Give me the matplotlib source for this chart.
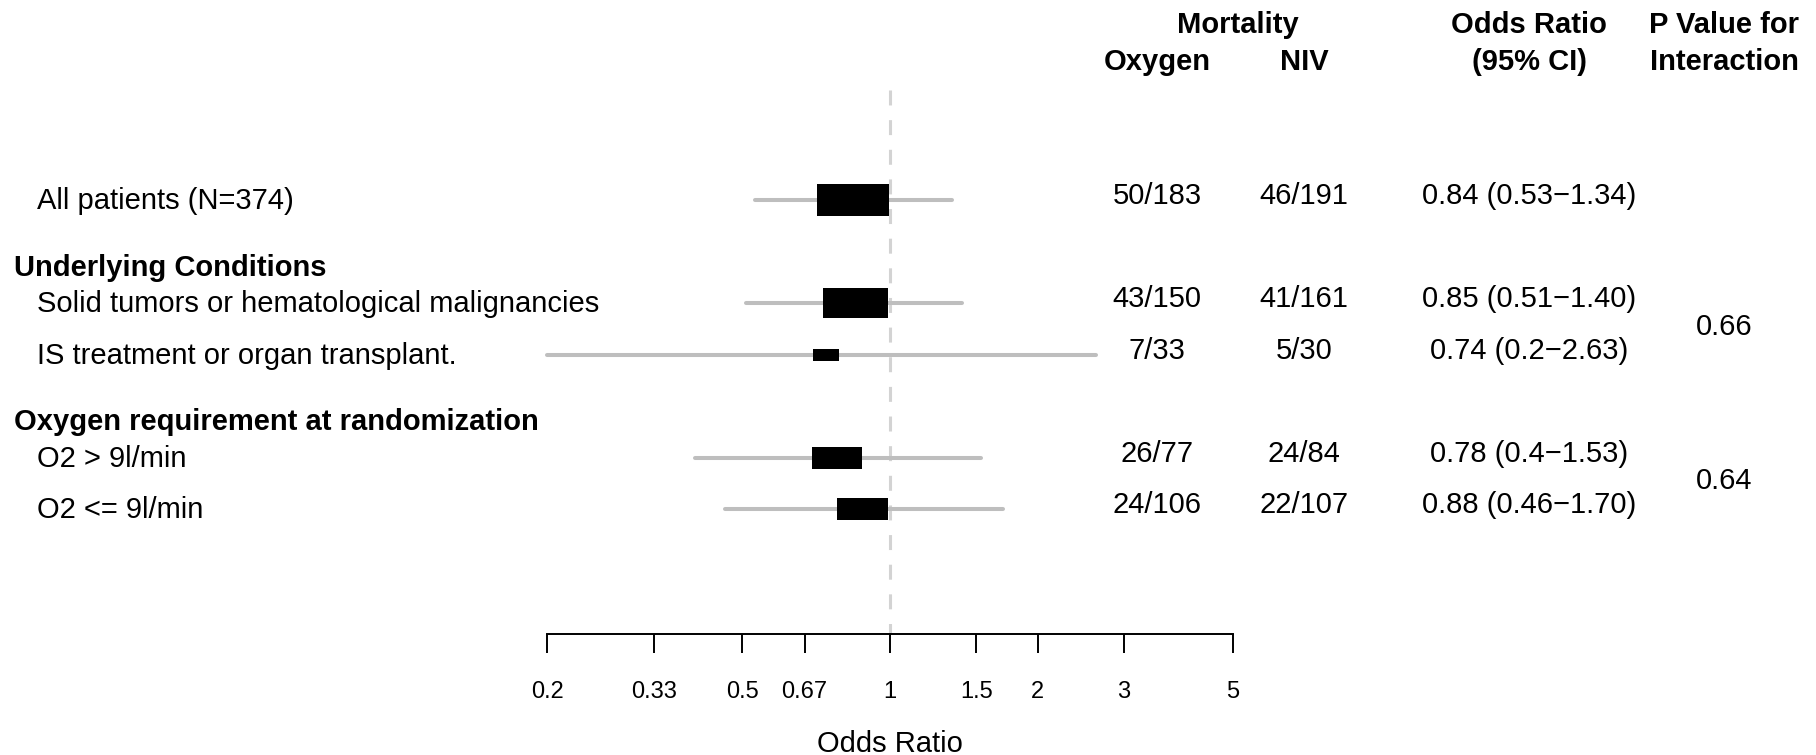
import numpy as np
import matplotlib
matplotlib.use("Agg")
import matplotlib.pyplot as plt
from matplotlib.patches import Rectangle
from matplotlib.ticker import NullLocator

plt.rcParams['font.family'] = ['Liberation Sans', 'DejaVu Sans']

# Subgroup results
subgroups = ["All patients (N=374)",
             "Solid tumors or hematological malignancies",
             "IS treatment or organ transplant.",
             "O2 > 9l/min",
             "O2 <= 9l/min"]
group_titles = ["Underlying Conditions", "Oxygen requirement at randomization"]
group_members = [[1, 2], [3, 4]]

oxygen_deaths = [50, 43, 7, 26, 24]
oxygen_total = [183, 150, 33, 77, 106]
niv_deaths = [46, 41, 5, 24, 22]
niv_total = [191, 161, 30, 84, 107]

odds_ratio = [0.84, 0.85, 0.74, 0.78, 0.88]
ci_low = [0.53, 0.51, 0.2, 0.4, 0.46]
ci_high = [1.34, 1.40, 2.63, 1.53, 1.70]
p_interaction = [0.66, 0.64]

tick_values = [0.2, 0.33, 0.5, 0.67, 1, 1.5, 2, 3, 5]
tick_labels = ["0.2", "0.33", "0.5", "0.67", "1", "1.5", "2", "3", "5"]

# Layout in pixels (from the top-left corner)
W, H = 1816, 755
X0, X1, AXIS_Y = 547, 1233, 634
ROW_Y = [200, 303, 355, 458, 509]
TITLE_Y = [266, 420]
LABEL_X, TITLE_X = 37, 14
OXY_X, NIV_X, OR_X, P_X, MORT_X = 1157, 1304, 1529, 1724, 1238
BOX_K = 66.2          # box width in px for a CI spanning one log unit
FS = 21

fig = plt.figure(figsize=(W / 100, H / 100), dpi=100)


def px_text(x, y, s, **kw):
    kw.setdefault('fontsize', FS)
    kw.setdefault('va', 'baseline')
    fig.text(x / W, 1 - y / H, s, **kw)


ax = fig.add_axes([X0 / W, 1 - AXIS_Y / H, (X1 - X0) / W, AXIS_Y / H])
ax.set_xscale('log')
ax.set_xlim(0.2, 5)
ax.set_ylim(AXIS_Y, 0)
ax.patch.set_alpha(0)
for side in ['top', 'left', 'right']:
    ax.spines[side].set_visible(False)
ax.spines['bottom'].set_linewidth(1.4)
ax.set_yticks([])
ax.set_xticks(tick_values)
ax.set_xticklabels(tick_labels)
ax.xaxis.set_minor_locator(NullLocator())
ax.tick_params(axis='x', length=13.7, width=1.4, labelsize=17, pad=20)
ax.set_xlabel("Odds Ratio", fontsize=FS)
ax.xaxis.set_label_coords(0.5, (AXIS_Y - 730) / AXIS_Y)

# line of no effect
ax.plot([1, 1], [90, AXIS_Y], color='#d3d3d3', lw=2.2,
        linestyle=(0, (4.9, 4.8)), zorder=1, clip_on=False)

log_span = np.log(5 / 0.2)
for y, o, lo, hi in zip(ROW_Y, odds_ratio, ci_low, ci_high):
    ax.plot([lo, hi], [y, y], color='#bebebe', lw=2.9,
            solid_capstyle='round', zorder=2, clip_on=False)
    w_px = BOX_K / np.log(hi / lo)
    h_px = 0.445 * w_px
    half = w_px * log_span / (X1 - X0) / 2
    left, right = o * np.exp(-half), o * np.exp(half)
    ax.add_patch(Rectangle((left, y - h_px / 2), right - left, h_px,
                           facecolor='black', edgecolor='none', zorder=3))

# left-hand labels
for y, s in zip(ROW_Y, subgroups):
    px_text(LABEL_X, y + 9, s, ha='left')
for y, s in zip(TITLE_Y, group_titles):
    px_text(TITLE_X, y + 10, s, ha='left', fontweight='bold')

# column headers
px_text(MORT_X, 33, "Mortality", ha='center', fontweight='bold')
px_text(OXY_X, 70, "Oxygen", ha='center', fontweight='bold')
px_text(NIV_X, 70, "NIV", ha='center', fontweight='bold')
px_text(OR_X, 33, "Odds Ratio", ha='center', fontweight='bold')
px_text(OR_X, 70, "(95% CI)", ha='center', fontweight='bold')
px_text(P_X, 33, "P Value for", ha='center', fontweight='bold')
px_text(P_X, 70, "Interaction", ha='center', fontweight='bold')

# right-hand columns
for i, y in enumerate(ROW_Y):
    px_text(OXY_X, y + 4, f"{oxygen_deaths[i]}/{oxygen_total[i]}", ha='center')
    px_text(NIV_X, y + 4, f"{niv_deaths[i]}/{niv_total[i]}", ha='center')
    px_text(OR_X, y + 4,
            f"{odds_ratio[i]:.2f} ({ci_low[i]:g}\u2212{ci_high[i]:.2f})",
            ha='center')

for members, p in zip(group_members, p_interaction):
    y = np.mean([ROW_Y[m] for m in members])
    px_text(P_X, y + 6, f"{p:.2f}", ha='center')

fig.savefig("out.png", dpi=100)
